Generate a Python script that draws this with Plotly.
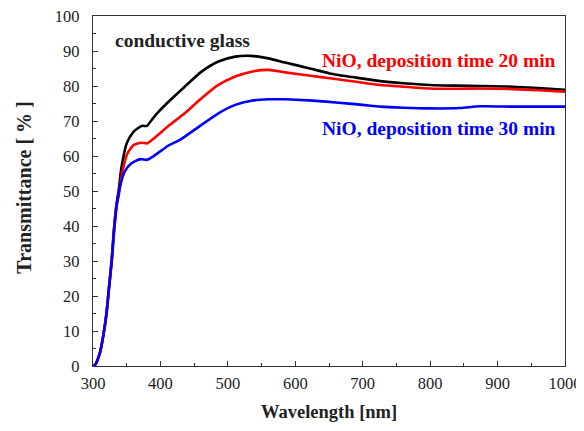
import plotly.graph_objects as go

# Wavelength (nm) and transmittance (%)
wl_glass = [300, 303, 310, 315, 320, 324, 328, 331, 335, 338, 342, 350, 360, 372, 380, 387, 395, 412, 436, 461, 486, 511, 535, 560, 585, 620, 651, 690, 726, 760, 800, 840, 874, 923, 960, 1000]
t_glass = [0, 0.3, 3.6, 8.4, 15, 23, 31, 39, 46.5, 50, 56.5, 63.6, 66.9, 68.6, 68.6, 70.3, 72.2, 75.5, 79.8, 84.1, 87.0, 88.4, 88.6, 87.9, 86.7, 85.1, 83.6, 82.4, 81.4, 80.8, 80.3, 80.1, 80.0, 79.8, 79.4, 78.9]

wl_20 = [300, 303, 310, 315, 320, 324, 328, 331, 335, 338, 342, 350, 360, 372, 380, 390, 414, 436, 461, 486, 511, 535, 560, 585, 620, 651, 690, 726, 760, 800, 840, 874, 923, 960, 1000]
t_20 = [0, 0.3, 3.6, 8.4, 15, 23, 30.8, 38.5, 46, 48.5, 53.8, 60.3, 63.1, 63.8, 63.6, 65.0, 68.9, 72.2, 76.5, 80.3, 82.7, 84.1, 84.6, 83.9, 83.0, 82.2, 81.2, 80.3, 79.8, 79.3, 79.2, 79.3, 79.1, 78.8, 78.4]

wl_30 = [300, 303, 310, 315, 320, 324, 328, 331, 335, 340, 347, 357, 370, 380, 387, 399, 412, 429, 461, 486, 511, 535, 560, 585, 620, 660, 700, 726, 760, 800, 844, 874, 923, 960, 1000]
t_30 = [0, 0.3, 3.6, 8.4, 15, 22.7, 30.3, 37.9, 45.5, 51.2, 55.5, 57.9, 59.1, 58.9, 59.6, 61.2, 63.0, 64.6, 68.9, 72.2, 74.6, 75.8, 76.2, 76.2, 75.9, 75.3, 74.6, 74.1, 73.8, 73.6, 73.7, 74.2, 74.1, 74.1, 74.1]

x_ticks = [300, 400, 500, 600, 700, 800, 900, 1000]
y_ticks = [0, 10, 20, 30, 40, 50, 60, 70, 80, 90, 100]

fig = go.Figure()
for x, y, c in [(wl_glass, t_glass, "black"), (wl_20, t_20, "#ff0000"), (wl_30, t_30, "#0000ff")]:
    fig.add_trace(go.Scatter(x=x, y=y, mode="lines", line=dict(color=c, width=2.6, shape="spline", smoothing=0.6),
                             showlegend=False, hoverinfo="skip"))

serif = "Liberation Serif"
fig.add_annotation(x=330, y=93.0, xref="x", yref="y", text="<b>conductive glass</b>", showarrow=False,
                   xanchor="left", yanchor="middle", font=dict(family=serif, size=19.5, color="#222222"))
fig.add_annotation(x=989, y=87.4, xref="x", yref="y", text="<b>NiO, deposition time 20 min</b>", showarrow=False,
                   xanchor="right", yanchor="middle", font=dict(family=serif, size=19.5, color="#ff0000"))
fig.add_annotation(x=990, y=68.0, xref="x", yref="y", text="<b>NiO, deposition time 30 min</b>", showarrow=False,
                   xanchor="right", yanchor="middle", font=dict(family=serif, size=19.5, color="#0000ff"))

# axis titles as annotations relative to the plot area
fig.add_annotation(x=0.5, y=-0.131, xref="paper", yref="paper", text="<b>Wavelength [nm]</b>",
                   showarrow=False, xanchor="center", yanchor="middle",
                   font=dict(family=serif, size=18.5, color="#222222"))
fig.add_annotation(x=-0.148, y=0.51, xref="paper", yref="paper", text="<b>Transmittance [ % ]</b>",
                   showarrow=False, xanchor="center", yanchor="middle", textangle=-90,
                   font=dict(family=serif, size=20, color="#222222"))

axis_common = dict(showgrid=False, zeroline=False, showline=True, linecolor="#333333", linewidth=1.3,
                   mirror=True, ticks="inside", ticklen=5, tickwidth=1.2, tickcolor="#333333",
                   automargin=False, ticklabeloverflow="allow",
                   tickfont=dict(family=serif, size=16.5, color="#222222"))
fig.update_xaxes(range=[300, 1000], tickvals=x_ticks, ticktext=[str(v) for v in x_ticks],
                 minor=dict(ticks="inside", ticklen=3, dtick=50, tick0=300, tickcolor="#333333", tickwidth=1.2),
                 ticklabelstandoff=2, **axis_common)
fig.update_yaxes(range=[0, 100], tickvals=y_ticks, ticktext=[str(v) for v in y_ticks],
                 minor=dict(ticks="inside", ticklen=3, dtick=5, tick0=0, tickcolor="#333333", tickwidth=1.2),
                 ticklabelstandoff=9, **axis_common)
# page body has an 8px margin, so the figure is 8px smaller and shifted
fig.update_layout(width=576, height=423, margin=dict(l=85, r=19, t=8, b=65),
                  paper_bgcolor="white", plot_bgcolor="white")
fig.write_html("out.html")
